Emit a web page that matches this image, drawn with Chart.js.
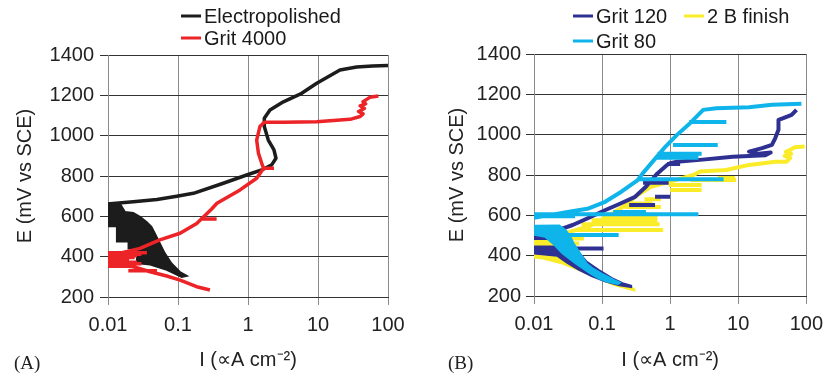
<!DOCTYPE html>
<html>
<head>
<meta charset="utf-8">
<script src="https://cdn.jsdelivr.net/npm/chart.js@4.4.1/dist/chart.umd.min.js"></script>
<style>
  html, body { margin: 0; padding: 0; background: #fff; }
  #wrap { position: relative; width: 831px; height: 380px; overflow: hidden; }
  canvas { position: absolute; top: 0; }
  #cA { left: 0; }
  #cB { left: 415px; }
  .tag { position: absolute; top: 352px; font: 19px "Liberation Serif", "Times New Roman", serif; color: #222; line-height: 22px; }
</style>
</head>
<body>
<div id="wrap">
  <canvas id="cA" width="415" height="380"></canvas>
  <canvas id="cB" width="416" height="380"></canvas>
  <div class="tag" style="left:14px">(A)</div>
  <div class="tag" style="left:448px">(B)</div>
</div>
<script>
// axes
const xTicks = [0.01, 0.1, 1, 10, 100];
const xTickLabels = ['0.01', '0.1', '1', '10', '100'];
const yMin = 200, yMax = 1400, yStep = 200;
const xTitle = 'I (\u221dA cm\u207b\u00b2)';
const yTitle = 'E (mV vs SCE)';

// ---- (A) ----
const nameEP = 'Electropolished';
const nameG4000 = 'Grit 4000';

const epX = [100, 60, 35.6, 20.6, 9.6, 5.85, 3.2, 2.06, 1.71, 1.71, 1.95, 2.35, 2.51, 2.18, 1.57, 0.957, 0.444, 0.166, 0.096, 0.05, 0.023, 0.0107, 0.01];
const epY = [1348, 1345, 1340, 1326, 1260, 1210, 1168, 1127, 1086, 1045, 978, 929, 888, 855, 830, 805, 764, 714, 700, 683, 672, 662, 660];
// noisy cathodic region (outline)
const epBlobX = [0.01, 0.0148, 0.0175, 0.023, 0.0287, 0.0357, 0.042, 0.047, 0.0553, 0.0652, 0.0812, 0.107, 0.136, 0.113, 0.0689, 0.04, 0.0257, 0.0257, 0.0195, 0.0195, 0.0133, 0.0133, 0.01];
const epBlobY = [665, 665, 623, 618, 598, 573, 549, 516, 466, 417, 367, 325, 304, 298, 334, 360, 367, 441, 441, 474, 474, 549, 549];

const g4000X = [72.8, 55, 49.6, 44, 48, 40, 46, 38, 44, 40, 28.7, 9.6, 3.2, 1.71, 1.48, 1.33, 1.41, 1.57, 1.67, 1.33, 0.77, 0.36, 0.3, 0.185, 0.107, 0.055, 0.0287, 0.0148, 0.01];
const g4000Y = [1197, 1190, 1180, 1168, 1158, 1148, 1135, 1120, 1108, 1095, 1081, 1069, 1066, 1066, 1045, 978, 913, 863, 838, 789, 731, 665, 635, 565, 516, 483, 441, 417, 405];
const g4000LowX = [0.01, 0.023, 0.04, 0.069, 0.107, 0.185, 0.286];
const g4000LowY = [364, 350, 325, 304, 284, 251, 235];
const g4000StreakY = [838, 587, 420, 412, 404, 396, 389, 382, 372, 365, 358, 352, 330];
const g4000StreakX0 = [1.67, 0.206, 0.01, 0.01, 0.01, 0.01, 0.01, 0.01, 0.01, 0.01, 0.01, 0.01, 0.0195];
const g4000StreakX1 = [2.35, 0.356, 0.036, 0.03, 0.026, 0.024, 0.02, 0.018, 0.026, 0.03, 0.024, 0.02, 0.05];

// ---- (B) ----
const name120 = 'Grit 120';
const name2B = '2 B finish';
const name80 = 'Grit 80';

const g80X = [84.7, 31.3, 14.4, 4.76, 3.06, 1.96, 1.26, 0.855, 0.582, 0.395, 0.334, 0.192, 0.111, 0.0636, 0.0327, 0.0168, 0.01];
const g80Y = [1153, 1148, 1136, 1131, 1123, 1057, 999, 941, 875, 808, 775, 717, 667, 634, 618, 601, 588];
const g80StreakY = [1063, 949, 905, 885, 779, 616, 605, 595, 502];
const g80StreakX0 = [1.9, 1.1, 0.65, 0.6, 0.33, 0.146, 0.01, 0.01, 0.022];
const g80StreakX1 = [6.7, 5.0, 2.9, 2.6, 6.1, 0.44, 2.6, 0.04, 0.175];
const g80BlobX = [0.01, 0.0235, 0.0293, 0.0346, 0.0386, 0.048, 0.06, 0.075, 0.1, 0.125, 0.154, 0.185, 0.172, 0.123, 0.09, 0.067, 0.0408, 0.026, 0.0188, 0.0145, 0.01];
const g80BlobY = [550, 551, 527, 493, 460, 411, 361, 335, 311, 295, 278, 266, 258, 268, 285, 311, 361, 411, 460, 493, 502];

const g120X = [71.8, 60.8, 46, 39, 39, 34.9, 31.2, 22.4, 14.4, 20, 30, 25, 8.3, 2.74, 1.26, 1.0, 0.9, 0.65, 0.44, 0.3, 0.19, 0.11, 0.064, 0.037, 0.023, 0.01];
const g120Y = [1123, 1098, 1082, 1073, 1024, 982, 949, 933, 916, 905, 912, 898, 891, 875, 866, 858, 850, 808, 742, 690, 660, 625, 588, 552, 528, 518];
const g120StreakY = [855, 762, 692, 651, 435, 490];
const g120StreakX0 = [0.9, 0.4, 0.6, 0.25, 0.035, 0.01];
const g120StreakX1 = [1.4, 0.95, 1.0, 0.6, 0.105, 0.018];
const g120BlobX = [0.01, 0.02, 0.035, 0.045, 0.06, 0.09, 0.14, 0.2, 0.27, 0.27, 0.18, 0.11, 0.07, 0.045, 0.03, 0.022, 0.01];
const g120BlobY = [505, 500, 470, 420, 370, 330, 290, 265, 252, 243, 252, 272, 298, 330, 365, 398, 410];

const g2BX = [94.4, 67.8, 57.4, 50, 60, 48, 58, 51.4, 34.9, 14.4, 6.64, 2.74, 2.2, 1.0, 0.52, 0.3, 0.22, 0.12, 0.064, 0.033, 0.01];
const g2BY = [941, 938, 924, 915, 905, 895, 885, 866, 866, 850, 825, 817, 800, 767, 742, 690, 650, 595, 545, 518, 505];
const g2BStreakY = [785, 775, 750, 726, 680, 659, 641, 596, 576, 556, 527, 485, 468, 460];
const g2BStreakX0 = [5, 2.0, 0.95, 1.0, 0.42, 0.27, 0.215, 0.1, 0.07, 0.05, 0.04, 0.02, 0.01, 0.01];
const g2BStreakX1 = [9, 9.3, 2.9, 2.9, 0.73, 0.55, 0.73, 0.65, 0.65, 0.7, 0.79, 0.054, 0.022, 0.046];
const g2BBlobX = [0.01, 0.022, 0.03, 0.045, 0.07, 0.11, 0.18, 0.3, 0.3, 0.154, 0.089, 0.046, 0.026, 0.0135, 0.01];
const g2BBlobY = [480, 480, 440, 400, 340, 300, 268, 235, 226, 252, 285, 327, 360, 385, 390];

const BLACK = '#1c1c1c', RED = '#ec2327', NAVY = '#2e3192', YELLOW = '#fbec2a', CYAN = '#0fb4ea';
const FONT = '"Liberation Sans", Arial, Helvetica, sans-serif';

const pts = (xs, ys) => xs.map((x, i) => ({ x, y: ys[i] }));
const gap = { x: null, y: null };
const streaks = (ys, x0, x1) => ys.flatMap((y, i) => [gap, { x: x0[i], y }, { x: x1[i], y }]);

function lineSet(label, color, data, order, w) {
  return { label, data, borderColor: color, backgroundColor: color, borderWidth: w, pointRadius: 0,
    showLine: true, tension: 0, fill: false, order, borderJoinStyle: 'round', spanGaps: false };
}
function blobSet(label, color, xs, ys, order) {
  return { label, data: pts(xs, ys), borderColor: color, backgroundColor: color, borderWidth: 1.5, pointRadius: 0,
    showLine: true, tension: 0, fill: 'shape', order };
}

const legendPlugin = {
  id: 'keyBox',
  afterDraw(chart, args, opts) {
    const ctx = chart.ctx;
    ctx.save();
    ctx.font = '20px ' + FONT;
    ctx.textBaseline = 'middle';
    ctx.fillStyle = '#1a1a1a';
    for (const it of opts.items || []) {
      ctx.strokeStyle = it.color;
      ctx.lineWidth = 3;
      ctx.beginPath();
      ctx.moveTo(it.x, it.y);
      ctx.lineTo(it.x + 20, it.y);
      ctx.stroke();
      ctx.fillText(it.label, it.x + 23, it.y + 1);
    }
    ctx.restore();
  }
};

function makeChart(id, datasets, box, legendItems) {
  new Chart(document.getElementById(id), {
    type: 'scatter',
    data: { datasets },
    plugins: [legendPlugin],
    options: {
      responsive: false,
      animation: false,
      devicePixelRatio: 1,
      layout: { padding: { left: 0, top: box.top, right: box.right, bottom: 0 } },
      plugins: { legend: { display: false }, tooltip: { enabled: false }, keyBox: { items: legendItems } },
      scales: {
        x: {
          type: 'logarithmic', min: xTicks[0], max: xTicks[xTicks.length - 1],
          afterBuildTicks: s => { s.ticks = xTicks.map(v => ({ value: v })); },
          afterFit: s => { s.height = box.xh; },
          ticks: { callback: v => xTickLabels[xTicks.indexOf(v)] ?? '', color: '#222', font: { size: 20, family: FONT }, padding: 8, maxRotation: 0, autoSkip: false },
          grid: { color: '#8a8a8a', lineWidth: 1, tickLength: 8 },
          border: { color: '#333', width: 1 },
          title: { display: true, text: xTitle, color: '#222', font: { size: 20, family: FONT }, padding: { top: 0, bottom: 8 } }
        },
        y: {
          type: 'linear', min: yMin, max: yMax,
          afterFit: s => { s.width = box.yw; },
          ticks: { stepSize: yStep, callback: v => String(v), color: '#222', font: { size: 20, family: FONT }, padding: box.yPad },
          grid: { color: '#333', lineWidth: 1, tickLength: 8 },
          border: { color: '#8a8a8a', width: 1 },
          title: { display: true, text: yTitle, color: '#222', font: { size: 20, family: FONT }, padding: { top: box.yTitlePad, bottom: 0 } }
        }
      }
    }
  });
}

// chart A
makeChart('cA', [
  lineSet(nameG4000, RED, [...pts(g4000X, g4000Y), gap, ...pts(g4000LowX, g4000LowY), ...streaks(g4000StreakY, g4000StreakX0, g4000StreakX1)], 0, 3.5),
  lineSet(nameEP, BLACK, pts(epX, epY), 1, 3.5),
  blobSet(nameEP, BLACK, epBlobX, epBlobY, 2)
], { top: 55, right: 27, xh: 83, yw: 108, yPad: 6, yTitlePad: 13 }, [
  { label: nameEP, color: BLACK, x: 181, y: 16 },
  { label: nameG4000, color: RED, x: 181, y: 38 }
]);

// chart B
makeChart('cB', [
  lineSet(name80, CYAN, [...pts(g80X, g80Y), ...streaks(g80StreakY, g80StreakX0, g80StreakX1)], 0, 4),
  blobSet(name80, CYAN, g80BlobX, g80BlobY, 1),
  lineSet(name120, NAVY, [...pts(g120X, g120Y), ...streaks(g120StreakY, g120StreakX0, g120StreakX1)], 2, 4),
  lineSet(name2B, YELLOW, [...pts(g2BX, g2BY), ...streaks(g2BStreakY, g2BStreakX0, g2BStreakX1)], 3, 4),
  blobSet(name120, NAVY, g120BlobX, g120BlobY, 4),
  blobSet(name2B, YELLOW, g2BBlobX, g2BBlobY, 5)
], { top: 54, right: 19, xh: 84, yw: 119, yPad: 5, yTitlePad: 30 }, [
  { label: name120, color: NAVY, x: 158, y: 16 },
  { label: name2B, color: YELLOW, x: 269, y: 16 },
  { label: name80, color: CYAN, x: 158, y: 41 }
]);
</script>
</body>
</html>
